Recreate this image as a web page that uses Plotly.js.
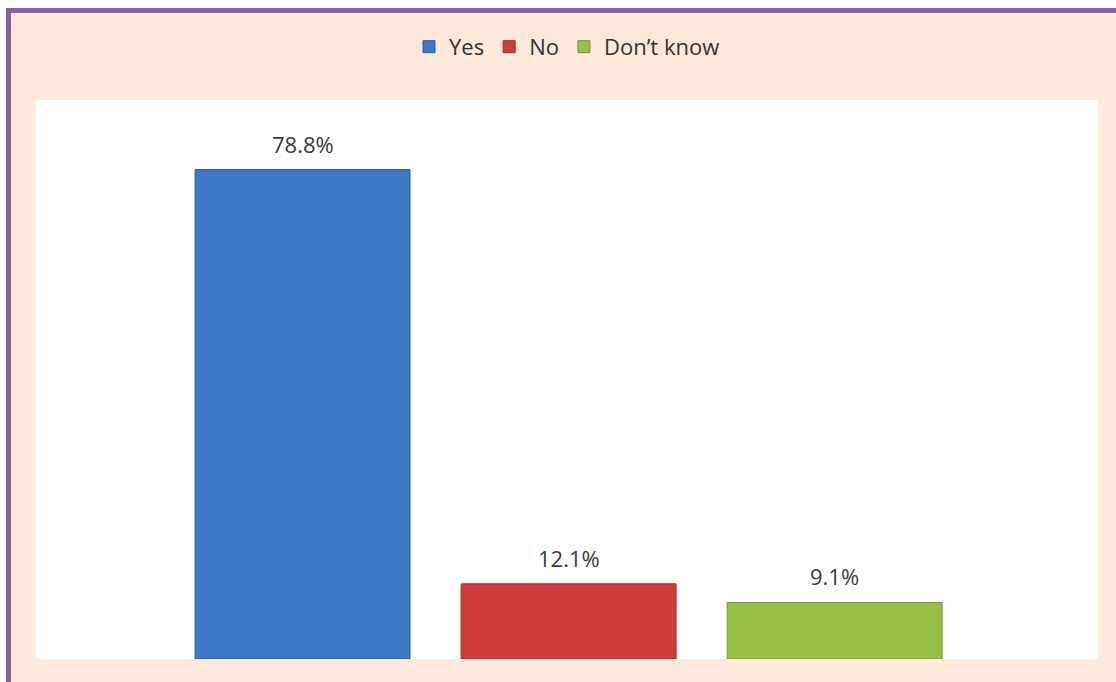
<!DOCTYPE html>
<html>
<head>
<meta charset="utf-8">
<script src="https://cdn.plot.ly/plotly-3.0.1.min.js"></script>
<style>
  html, body { margin: 0; padding: 0; background: #ffffff; }
  #frame { position: absolute; left: 6px; top: 8px; width: 1105px; height: 669px;
           background: #FDE9DB; border-left: 5px solid #8064A2; border-top: 5px solid #8064A2; }
  #chart { position: absolute; left: 0; top: 0; width: 1116px; height: 682px; z-index: 2; }
</style>
</head>
<body>
<div id="frame"></div>
<div id="chart"></div>
<script>
const categories = ["Yes", "No", "Don\u2019t know"];
const values = [78.8, 12.1, 9.1];
const colors = ["#3C78C6", "#D03C3C", "#98C047"];
const lineColors = ["#2B5C9C", "#A02A2A", "#73952F"];

const traces = categories.map((c, i) => ({
  type: "bar",
  name: c,
  x: [c],
  y: [values[i]],
  width: 0.808,
  marker: { color: colors[i], line: { color: lineColors[i], width: 1 } },
  hoverinfo: "skip"
}));

const annotations = categories.map((c, i) => ({
  x: c, y: values[i], xref: "x", yref: "y",
  text: values[i].toFixed(1) + "%",
  showarrow: false, yanchor: "bottom", yshift: 9,
  font: { family: "Open Sans", size: 22, color: "#3a3a3a" }
}));

const layout = {
  width: 1116, height: 682,
  margin: { l: 36, r: 18, t: 100, b: 23 },
  paper_bgcolor: "rgba(0,0,0,0)",
  plot_bgcolor: "#ffffff",
  barmode: "overlay",
  showlegend: true,
  legend: {
    orientation: "h", x: 0.5, xanchor: "center", y: 1.095, yanchor: "middle",
    font: { family: "Open Sans", size: 22, color: "#333333" },
    bgcolor: "rgba(0,0,0,0)"
  },
  xaxis: {
    type: "category", categoryorder: "array", categoryarray: categories,
    range: [-1.002, 2.99], showticklabels: false, showgrid: false,
    zeroline: false, showline: false, ticks: "", fixedrange: true
  },
  yaxis: {
    range: [0, 90], showticklabels: false, showgrid: false,
    zeroline: false, showline: false, ticks: "", fixedrange: true
  },
  annotations: annotations
};

Plotly.newPlot("chart", traces, layout, { displayModeBar: false, staticPlot: true });
</script>
</body>
</html>
